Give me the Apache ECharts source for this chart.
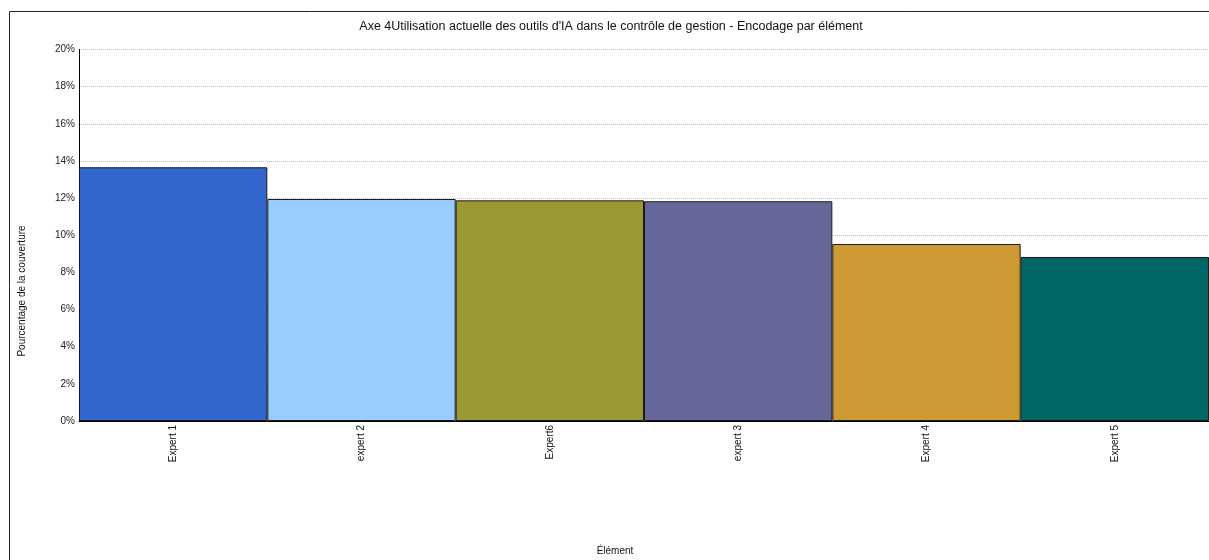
<!DOCTYPE html>
<html>
<head>
<meta charset="utf-8">
<script src="https://cdn.jsdelivr.net/npm/echarts@6/dist/echarts.min.js"></script>
<style>
  html, body { margin: 0; padding: 0; background: #fff; }
  #chart { width: 1209px; height: 560px; }
</style>
</head>
<body>
<div id="chart"></div>
<script>
// Coverage percentage per coded element
const categories = ['Expert 1', 'expert 2', 'Expert6', 'expert 3', 'Expert 4', 'Expert 5'];
const coverage = [13.66, 11.95, 11.88, 11.83, 9.53, 8.83];
const barColors = ['#3366CC', '#99CCFF', '#999933', '#666699', '#CC9933', '#006666'];

const titleText = "Axe 4Utilisation actuelle des outils d'IA dans le contrôle de gestion - Encodage par élément";
const yAxisTitle = 'Pourcentage de la couverture';
const xAxisTitle = 'Élément';

const FONT = 'Liberation Sans, Arial, sans-serif';

const chart = echarts.init(document.getElementById('chart'), null, { renderer: 'canvas' });

chart.setOption({
  animation: false,
  backgroundColor: '#ffffff',
  grid: { left: 79, right: 0, top: 49.5, bottom: 139, containLabel: false },
  xAxis: {
    type: 'category',
    data: categories,
    axisLine: { show: true, lineStyle: { color: '#000', width: 1 } },
    axisTick: { show: false },
    axisLabel: {
      rotate: 90,
      margin: 4,
      fontFamily: FONT,
      fontSize: 10,
      color: '#111'
    },
    splitLine: { show: false }
  },
  yAxis: {
    type: 'value',
    min: 0,
    max: 20,
    interval: 2,
    axisLine: { show: true, lineStyle: { color: '#000', width: 1 } },
    axisTick: { show: false },
    axisLabel: {
      formatter: '{value}%',
      margin: 4,
      fontFamily: FONT,
      fontSize: 10,
      color: '#222'
    },
    splitLine: { show: true, lineStyle: { color: '#bbbbbb', type: 'dotted', width: 1 } }
  },
  series: [{
    type: 'bar',
    barCategoryGap: '0%',
    data: coverage.map((v, i) => ({
      value: v,
      itemStyle: { color: barColors[i] }
    })),
    itemStyle: { borderColor: '#1a1a1a', borderWidth: 1 }
  }],
  graphic: [
    {
      type: 'rect',
      shape: { x: 9.5, y: 11.5, width: 1400, height: 700 },
      style: { fill: null, stroke: '#222', lineWidth: 1 },
      silent: true,
      z: -1
    },
    {
      type: 'text',
      x: 611, y: 27,
      style: {
        text: titleText,
        font: '12.5px ' + FONT,
        fill: '#111',
        align: 'center',
        verticalAlign: 'middle'
      }
    },
    {
      type: 'text',
      x: 22, y: 291,
      rotation: Math.PI / 2,
      style: {
        text: yAxisTitle,
        font: '10px ' + FONT,
        fill: '#111',
        align: 'center',
        verticalAlign: 'middle'
      }
    },
    {
      type: 'text',
      x: 615, y: 551,
      style: {
        text: xAxisTitle,
        font: '10px ' + FONT,
        fill: '#111',
        align: 'center',
        verticalAlign: 'middle'
      }
    }
  ]
});
</script>
</body>
</html>
